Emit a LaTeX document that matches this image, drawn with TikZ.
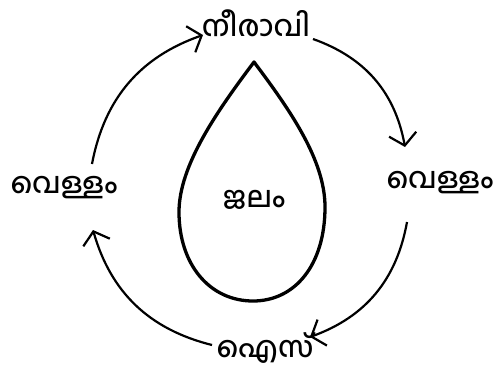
\documentclass[tikz,border=0pt]{standalone}
\usepackage{fontspec}
\newfontfamily\mlfont[Script=Malayalam, UprightFont={* Medium}]{Hind Kochi}
\usetikzlibrary{arrows.meta}
\begin{document}
\begin{tikzpicture}[x=1pt,y=-1pt,
  lbl/.style={font=\mlfont\fontsize{29}{34}\selectfont, inner sep=0pt},
  cyc/.style={line width=2.2pt, -{Straight Barb[angle=100:18pt, line width=2.2pt]}},
  dropline/.style={line width=3.3pt, line join=round}]
\useasboundingbox (0,0) rectangle (495,369);
% labels
\node[lbl] (top) at (256,23) {നീരാവി};
\node[lbl] (right) at (440,183) {വെള്ളം};
\node[lbl] (left) at (64,188) {വെള്ളം};
\node[lbl, anchor=base, text depth=0pt] (bottom) at (265,357) {ഐസ്};
\node[lbl] (center) at (254,200) {ജലം};
% drop
\draw[dropline] (254,62) .. controls (290,110) and (325,160) .. (325,207)
  .. controls (325,265) and (295,301) .. (253,301)
  .. controls (210,301) and (179,265) .. (179,212)
  .. controls (179,165) and (218,110) .. cycle;
% arc endpoints
\coordinate (a1s) at (92,164);  \coordinate (a1e) at (203,35);
\coordinate (a2s) at (313,39);  \coordinate (a2e) at (405,147);
\coordinate (a3s) at (407,222); \coordinate (a3e) at (310,337);
\coordinate (a4s) at (212,345); \coordinate (a4e) at (93,230);
\draw[cyc] (a1s) to[bend left=30] (a1e);
\draw[cyc] (a2s) to[bend left=30] (a2e);
\draw[cyc] (a3s) to[bend left=30] (a3e);
\draw[cyc] (a4s) to[bend left=30] (a4e);
\end{tikzpicture}
\end{document}
